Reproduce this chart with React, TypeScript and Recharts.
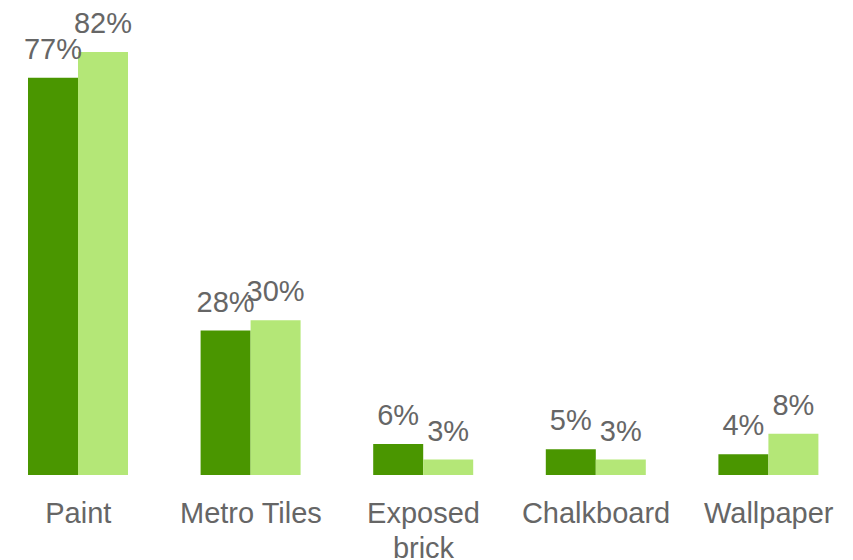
import { BarChart, Bar, XAxis, YAxis, LabelList } from "recharts";

const categories = ["Paint", "Metro Tiles", "Exposed brick", "Chalkboard", "Wallpaper"];
const seriesA = [77, 28, 6, 5, 4];
const seriesB = [82, 30, 3, 3, 8];

const chartData = categories.map((name, i) => ({
  name,
  a: seriesA[i],
  b: seriesB[i],
}));

const FONT = "'Liberation Sans', Arial, sans-serif";
const FS = 29;
const TICK_WIDTH = 160;

let ctx: CanvasRenderingContext2D | null = null;
function measure(s: string) {
  if (!ctx) ctx = document.createElement("canvas").getContext("2d");
  if (!ctx) return s.length * FS * 0.55;
  ctx.font = `${FS}px ${FONT}`;
  return ctx.measureText(s).width;
}

function wrap(label: string) {
  const lines: string[] = [];
  let cur = "";
  for (const w of label.split(" ")) {
    const next = cur ? `${cur} ${w}` : w;
    if (cur && measure(next) > TICK_WIDTH) {
      lines.push(cur);
      cur = w;
    } else {
      cur = next;
    }
  }
  if (cur) lines.push(cur);
  return lines;
}

function CategoryTick(props: any) {
  const { x, y, payload } = props;
  const lines = wrap(String(payload.value));
  return (
    <text
      x={x}
      y={y}
      textAnchor="middle"
      fill="#666666"
      style={{ fontSize: FS, fontFamily: FONT }}
    >
      {lines.map((l, i) => (
        <tspan key={i} x={x} dy={i === 0 ? "0.71em" : 35}>
          {l}
        </tspan>
      ))}
    </text>
  );
}

const pct = (v: any) => `${v}%`;

export default function App() {
  return (
    <div
      style={{
        position: "absolute",
        left: 0,
        top: 0,
        width: 853,
        height: 560,
        overflow: "hidden",
        background: "#fff",
      }}
    >
      <div style={{ position: "absolute", left: -8, top: 0 }}>
        <BarChart
          width={863}
          height={560}
          data={chartData}
          margin={{ top: 10.6, right: 0, bottom: 0, left: 0 }}
          barGap={0}
          barCategoryGap={0}
        >
          <XAxis
            dataKey="name"
            axisLine={false}
            tickLine={false}
            tickSize={0}
            tickMargin={27}
            height={85}
            interval={0}
            tick={<CategoryTick />}
          />
          <YAxis hide domain={[0, 90]} />
          <Bar dataKey="a" fill="#4a9600" barSize={50} isAnimationActive={false}>
            <LabelList
              dataKey="a"
              position="top"
              offset={19}
              formatter={pct}
              style={{ fontSize: FS, fill: "#666666", fontFamily: FONT }}
            />
          </Bar>
          <Bar dataKey="b" fill="#b4e777" barSize={50} isAnimationActive={false}>
            <LabelList
              dataKey="b"
              position="top"
              offset={19}
              formatter={pct}
              style={{ fontSize: FS, fill: "#666666", fontFamily: FONT }}
            />
          </Bar>
        </BarChart>
      </div>
    </div>
  );
}
